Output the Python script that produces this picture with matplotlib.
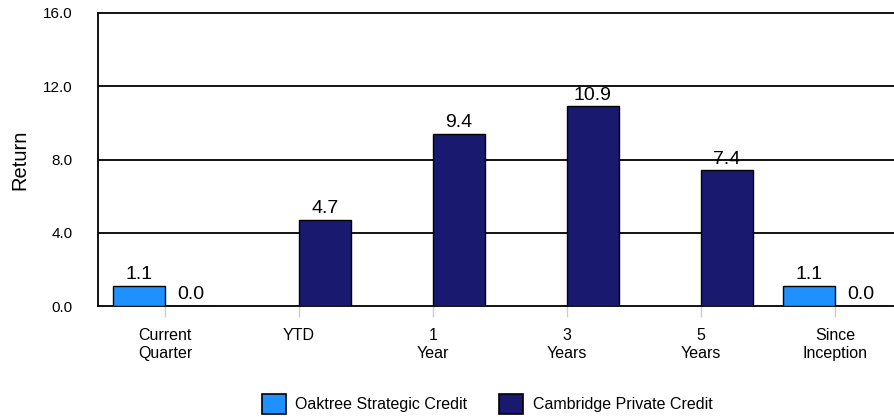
import numpy as np
import matplotlib
matplotlib.use("Agg")
import matplotlib.pyplot as plt
from matplotlib.patches import Patch

plt.rcParams['font.family'] = ['Liberation Sans', 'DejaVu Sans']

categories = ["Current\nQuarter", "YTD", "1\nYear", "3\nYears", "5\nYears", "Since\nInception"]
oaktree = [1.1, np.nan, np.nan, np.nan, np.nan, 1.1]
cambridge = [0.0, 4.7, 9.4, 10.9, 7.4, 0.0]
series_names = ["Oaktree Strategic Credit", "Cambridge Private Credit"]
yticks = [0.0, 4.0, 8.0, 12.0, 16.0]

c_oak = "#1E90FF"
c_cam = "#191970"

fig = plt.figure(figsize=(8.94, 4.17), dpi=100)
ax = fig.add_axes([98/894, 111/417, 804/894, 293/417])

x = np.arange(len(categories))
w = 0.385
ax.bar(x - w/2, oaktree, w, color=c_oak, edgecolor="black", linewidth=1.0, zorder=3)
ax.bar(x + w/2, cambridge, w, color=c_cam, edgecolor="black", linewidth=1.0, zorder=3)

for xi, v in zip(x, oaktree):
    if not np.isnan(v):
        ax.annotate(f"{v:.1f}", (xi - w/2, v), xytext=(0, 2), textcoords="offset points",
                    ha="center", va="bottom", fontsize=14, zorder=4)
for xi, v in zip(x, cambridge):
    if not np.isnan(v):
        ax.annotate(f"{v:.1f}", (xi + w/2, v), xytext=(0, 2), textcoords="offset points",
                    ha="center", va="bottom", fontsize=14, zorder=4)

ax.set_xlim(-0.5, len(categories) - 0.5)
ax.set_ylim(0, 16)
ax.set_yticks(yticks)
ax.set_yticklabels([f"{t:.1f}" for t in yticks], fontsize=11)
ax.tick_params(axis="y", which="major", length=0, pad=18)
ax.set_yticks([4, 8, 12], minor=True)
ax.tick_params(axis="y", which="minor", length=8, width=1.2, color="black", direction="out")
for t in [4, 8, 12]:
    ax.axhline(t, color="black", linewidth=1.3, zorder=1)

ax.set_xticks(x)
ax.set_xticklabels(categories, fontsize=11.5)
ax.tick_params(axis="x", length=8, width=1, color="#cccccc", pad=8)

for s in ax.spines.values():
    s.set_linewidth(1.3)
    s.set_color("black")

ax.set_ylabel("Return", fontsize=14.5, labelpad=10)

handles = [Patch(facecolor=c_oak, edgecolor="black", linewidth=1.2),
           Patch(facecolor=c_cam, edgecolor="black", linewidth=1.2)]
fig.legend(handles, series_names, loc="center", bbox_to_anchor=(487/894, 1 - 404/417),
           ncol=2, frameon=False, fontsize=11.5, handlelength=1.5, handleheight=1.5,
           handletextpad=0.62, columnspacing=1.95)

fig.savefig("out.png", dpi=100)
